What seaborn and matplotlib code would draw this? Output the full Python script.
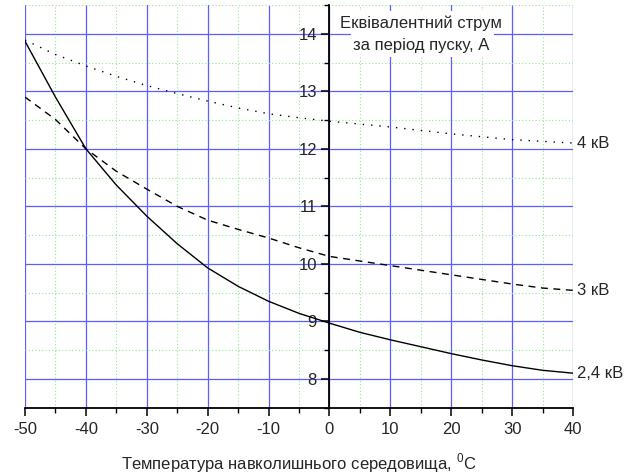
import matplotlib
matplotlib.use("Agg")
import matplotlib.pyplot as plt
from matplotlib.patches import Rectangle
from matplotlib.ticker import MultipleLocator
import seaborn as sns
import pandas as pd

temperature = [-50, -45, -40, -35, -30, -25, -20, -15, -10, -5, 0, 5, 10, 15, 20, 25, 30, 35, 40]
current_2_4kv = [13.87, 12.90, 12.00, 11.37, 10.83, 10.35, 9.93, 9.61, 9.35, 9.14, 8.97, 8.81, 8.68, 8.56, 8.44, 8.33, 8.23, 8.15, 8.10]
current_3kv = [12.90, 12.51, 12.00, 11.61, 11.30, 11.00, 10.76, 10.60, 10.45, 10.28, 10.13, 10.05, 9.97, 9.89, 9.81, 9.73, 9.65, 9.58, 9.54]
current_4kv = [13.89, 13.64, 13.44, 13.26, 13.10, 12.96, 12.83, 12.71, 12.61, 12.54, 12.48, 12.43, 12.38, 12.32, 12.26, 12.21, 12.16, 12.13, 12.10]
series_labels = ["2,4 кВ", "3 кВ", "4 кВ"]
x_ticks = [-50, -40, -30, -20, -10, 0, 10, 20, 30, 40]
y_ticks = [8, 9, 10, 11, 12, 13, 14]
title_text = "Еквівалентний струм\nза період пуску, А"
x_label = "Температура навколишнього середовища, $^\\mathregular{0}$C"

sns.set_style("white")
plt.rcParams["font.family"] = ["Liberation Sans", "DejaVu Sans"]
plt.rcParams["mathtext.fontset"] = "custom"
plt.rcParams["mathtext.rm"] = "Liberation Sans"

fig = plt.figure(figsize=(6.28, 4.76), dpi=100)
ax = fig.add_axes([0.0398, 0.1435, 0.8726, 0.846])

styles = ["-", (0, (5, 4)), (0, (1, 5))]
series = [current_2_4kv, current_3kv, current_4kv]
for vals, ls, lab in zip(series, styles, series_labels):
    df = pd.DataFrame({"t": temperature, "i": vals})
    sns.lineplot(data=df, x="t", y="i", ax=ax, color="black", linewidth=1.0,
                 linestyle=ls, zorder=3)
    ax.annotate(lab, xy=(temperature[-1], vals[-1]), xytext=(3, 0),
                textcoords="offset points", ha="left", va="center",
                fontsize=12, annotation_clip=False)

ax.set_xlim(-50, 40)
ax.set_ylim(7.5, 14.5)
ax.set_xticks(x_ticks)
ax.set_yticks(y_ticks)
ax.set_xticklabels([str(v) for v in x_ticks])
ax.set_yticklabels([str(v) for v in y_ticks])
ax.xaxis.set_minor_locator(MultipleLocator(5))
ax.yaxis.set_minor_locator(MultipleLocator(0.5))

ax.set_axisbelow(True)
ax.grid(which="minor", color="#8fe88f", linestyle=(0, (1, 2)), linewidth=0.8)
ax.grid(which="major", color="#5e5eff", linestyle="-", linewidth=0.9)

for s in ["top", "right"]:
    ax.spines[s].set_visible(False)
ax.spines["left"].set_position(("data", 0))
ax.spines["left"].set_color("black")
ax.spines["bottom"].set_color("black")
ax.spines["left"].set_linewidth(1.3)
ax.spines["bottom"].set_linewidth(1.3)

ax.tick_params(which="major", direction="out", length=6, width=1.1, labelsize=12,
               color="black", bottom=True, left=True)
ax.tick_params(which="minor", direction="out", length=3.5, width=1.0,
               color="black", bottom=True, left=True)
ax.tick_params(axis="y", pad=3)
ax.tick_params(axis="x", pad=4)

ax.set_xlabel(x_label, fontsize=12, labelpad=11)
ax.set_ylabel("")

ax.add_patch(Rectangle((3.5, 13.6), 23.5, 0.8, facecolor="white", edgecolor="none", zorder=1))
ax.text(15, 13.995, title_text, ha="center", va="center", fontsize=12,
        linespacing=1.55, zorder=4)

fig.savefig("out.png", dpi=100)
